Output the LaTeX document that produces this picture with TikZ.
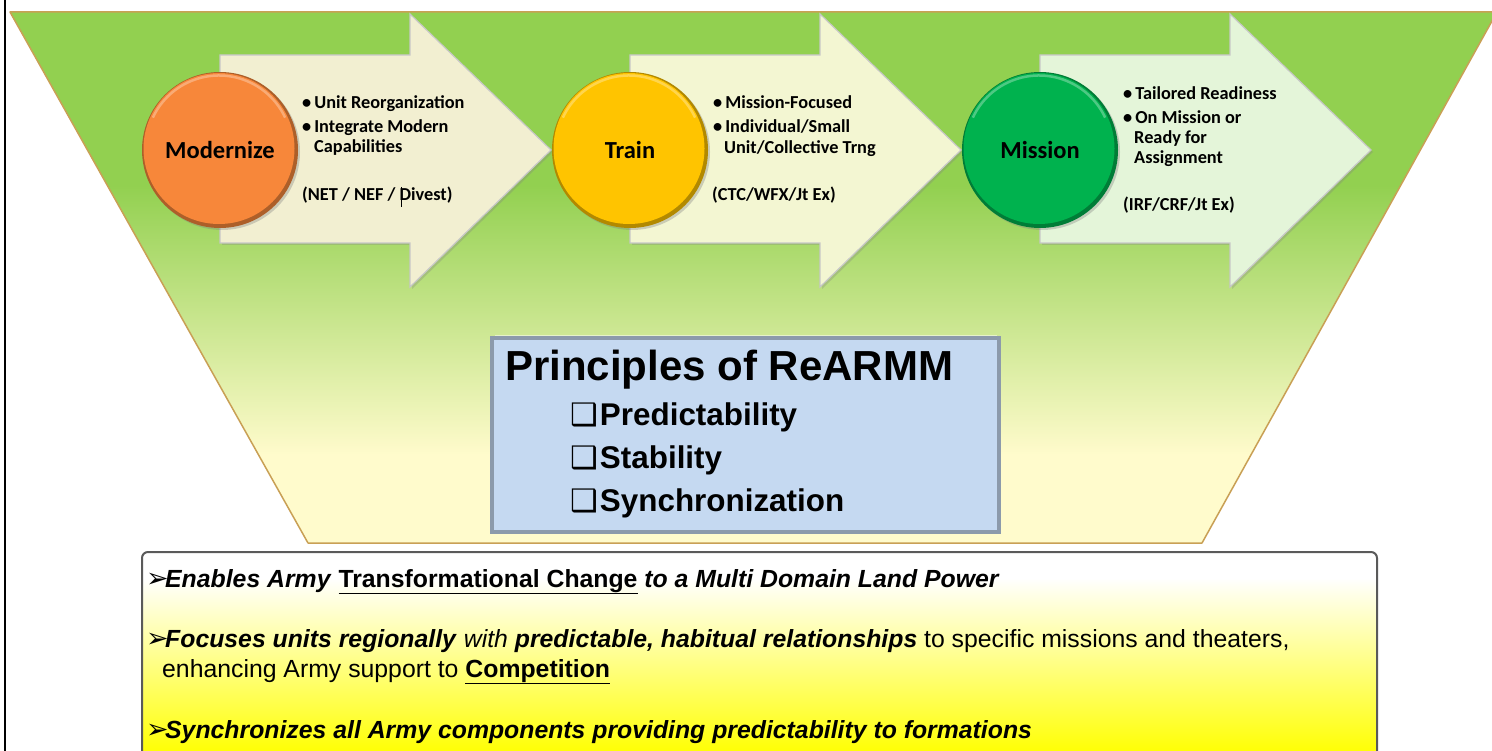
\documentclass[tikz,border=0pt]{standalone}
\usepackage{fontspec}
\setmainfont{Liberation Sans}
\newfontfamily\calfont{Carlito}
\newfontfamily\dvfont{DejaVu Sans}
\usetikzlibrary{shadows}
\definecolor{grn}{HTML}{92D050}
\definecolor{pale}{HTML}{FFFBCC}
\definecolor{trapedge}{HTML}{C9A055}
\definecolor{arrA}{HTML}{F2EFD1}
\definecolor{arrB}{HTML}{F3F6D2}
\definecolor{arrC}{HTML}{E4F5D9}
\definecolor{orng}{HTML}{F7873A}
\definecolor{ylw}{HTML}{FFC400}
\definecolor{mgrn}{HTML}{00B24E}
\definecolor{pblue}{HTML}{C5D9F1}
\definecolor{pframe}{HTML}{8C9AAB}
\definecolor{boxedge}{HTML}{5A5A5A}
\tikzset{
  arrowshape/.style={draw=black!22, line width=1.2pt, drop shadow={shadow xshift=2pt, shadow yshift=-2pt, opacity=0.3}},
  circlab/.style={font=\calfont\bfseries\fontsize{24.5}{28}\selectfont, inner sep=0pt},
  btext/.style={font=\calfont\bfseries\fontsize{18.3}{22}\selectfont, anchor=base west, inner sep=0pt},
  ptitle/.style={font=\bfseries\fontsize{42}{46}\selectfont, anchor=base west, inner sep=0pt},
  pitem/.style={font=\bfseries\fontsize{31.4}{34}\selectfont, anchor=base west, inner sep=0pt},
  ltext/.style={font=\fontsize{24.8}{28}\selectfont, anchor=base west, inner sep=0pt},
}
\newcommand{\mysq}{{\dvfont\fontsize{31}{34}\selectfont ❑}\hspace{2pt}}
\newcommand{\myarr}{\makebox[19pt][l]{\dvfont\fontsize{27}{28}\selectfont ➢}}
\newcommand{\ubi}[1]{\textbf{\textit{#1}}}
\begin{document}
\begin{tikzpicture}[x=1pt,y=-1pt]
\useasboundingbox (0,0) rectangle (1492,751);
\fill[white] (0,0) rectangle (1492,751);
% left black line
\draw[line width=2.2pt] (5,0) -- (5,751);
% trapezoid background
\begin{scope}
\clip (10,12) -- (1497,12) -- (1202,543) -- (308,543) -- cycle;
\fill[grn] (0,0) rectangle (1500,186);
\shade[top color=grn, bottom color=pale] (0,185) rectangle (1500,455);
\fill[pale] (0,454) rectangle (1500,560);
\end{scope}
\draw[trapedge, line width=1.5pt, line join=round] (10,12) -- (1497,12) -- (1202,543) -- (308,543) -- cycle;
% arrows
\foreach \dx/\col in {0/arrA, 410/arrB, 820/arrC}{
  \draw[arrowshape, fill=\col] (220+\dx,55) -- (410+\dx,55) -- (410+\dx,14) -- (551+\dx,150) -- (410+\dx,287) -- (410+\dx,243) -- (220+\dx,243) -- cycle;
}
% circles
\foreach \cx/\col in {220/orng, 630/ylw, 1040/mgrn}{
  \fill[\col!70!black, drop shadow={shadow xshift=2pt, shadow yshift=-2pt, opacity=0.35}] (\cx,150) circle (78);
  \fill[\col] (\cx-1,148.5) circle (75.5);
  \draw[white, opacity=0.3, line width=2.5pt] (\cx-1,148.5) ++(205:73) arc (205:335:73);
}
\node[circlab] (modernize) at (220,150) {Modernize};
\node[circlab] (train) at (630,150) {Train};
\node[circlab] (mission) at (1040,150) {Mission};
% arrow texts
\node[btext] (m1) at (302,109) {•\,Unit Reorganization};
\node[btext] (m2) at (302,133) {•\,Integrate Modern};
\node[btext] (m3) at (314,153) {Capabilities};
\node[btext] (m4) at (302,201) {(NET / NEF / Divest)};
\draw[line width=0.9pt] (401,187) -- (401,207);
\node[btext] (t1) at (713,109) {•\,Mission-Focused};
\node[btext] (t2) at (713,133) {•\,Individual/Small};
\node[btext] (t3) at (724,154) {Unit/Collective Trng};
\node[btext] (t4) at (712,201) {(CTC/WFX/Jt Ex)};
\node[btext] (s1) at (1123,100) {•\,Tailored Readiness};
\node[btext] (s2) at (1123,124) {•\,On Mission or};
\node[btext] (s3) at (1134,144) {Ready for};
\node[btext] (s4) at (1134,164) {Assignment};
\node[btext] (s5) at (1123,211) {(IRF/CRF/Jt Ex)};
% principles box
\draw[fill=pblue, draw=pframe, line width=3.5pt, drop shadow={shadow xshift=2pt, shadow yshift=-2pt, opacity=0.3}] (492,338) rectangle (999,532);
\draw[white, opacity=0.5, line width=1pt] (495,335.5) -- (996.5,335.5);
\node[ptitle] (ptitle) at (505,381) {Principles of ReARMM};
\node[pitem] (p1) at (570,425) {\mysq Predictability};
\node[pitem] (p2) at (570,468) {\mysq Stability};
\node[pitem] (p3) at (570,511) {\mysq Synchronization};
% bottom box
\begin{scope}
\clip[rounded corners=6pt] (142,552) rectangle (1377,780);
\fill[white] (140,550) rectangle (1380,580);
\shade[top color=white, bottom color=yellow] (140,578) rectangle (1380,755);
\fill[yellow] (140,754) rectangle (1380,790);
\end{scope}
\draw[boxedge, line width=2pt, rounded corners=6pt] (142,552) rectangle (1377,780);
\node[ltext] (l1) at (146,587) {\myarr\ubi{Enables Army} \textbf{\underline{Transformational Change}} \ubi{to a Multi Domain Land Power}};
\node[ltext] (l2) at (146,647) {\myarr\ubi{Focuses units regionally} \textit{with} \ubi{predictable, habitual relationships} to specific missions and theaters,};
\node[ltext] (l3) at (162,677) {enhancing Army support to \textbf{\underline{Competition}}};
\node[ltext] (l4) at (146,738) {\myarr\ubi{Synchronizes all Army components providing predictability to formations}};
\end{tikzpicture}
\end{document}
